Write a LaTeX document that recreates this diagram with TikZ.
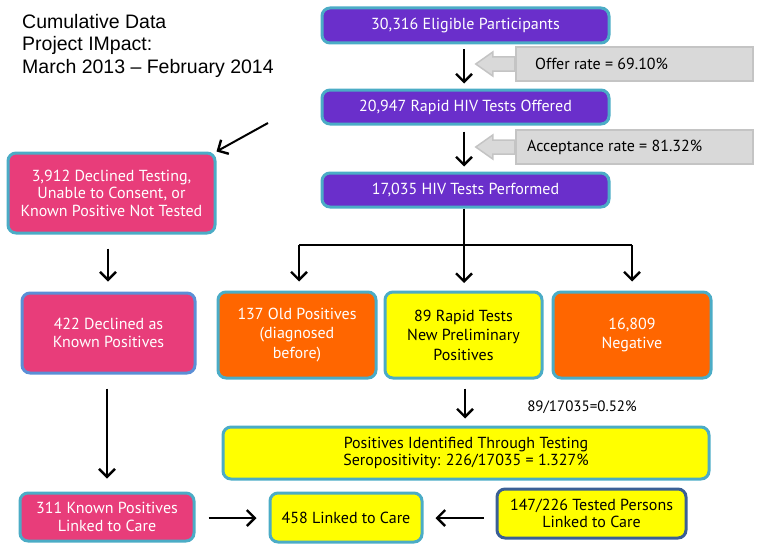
\documentclass[tikz,border=0pt]{standalone}
\usepackage{fontspec}
\setmainfont{Liberation Sans}
\newfontfamily\boxfont{PT Sans}
\usetikzlibrary{arrows.meta}
\definecolor{cpurple}{HTML}{6A2FCB}
\definecolor{ccyan}{HTML}{4BACC6}
\definecolor{cpink}{HTML}{E83D7A}
\definecolor{corange}{HTML}{FF6600}
\definecolor{cyellow}{HTML}{FFFF00}
\definecolor{cgray}{HTML}{D9D9D9}
\definecolor{cgrayb}{HTML}{C4C4C4}
\definecolor{cblueb}{HTML}{5B8FD6}
\definecolor{cnavy}{HTML}{3B5F95}
\tikzset{
  x=1pt, y=-1pt,
  box/.style={draw=ccyan, line width=3pt, rounded corners=8pt, align=center,
    font=\boxfont\fontsize{16}{17.5}\selectfont, inner sep=0pt},
  pbox/.style={box, fill=cpurple, text=white},
  kbox/.style={box, fill=cpink, text=white},
  obox/.style={box, fill=corange, text=white, font=\boxfont\fontsize{16}{19.5}\selectfont},
  ybox/.style={box, fill=cyellow, text=black},
  gbox/.style={draw=cgrayb, line width=2.5pt, fill=cgray, inner sep=0pt},
  flow/.style={line width=2.4pt, -{Straight Barb[length=8pt,width=16pt,line width=2.4pt]}},
  gtext/.style={font=\boxfont\fontsize{16}{17.5}\selectfont, anchor=west, inner sep=0pt},
}
\begin{document}
\begin{tikzpicture}
\useasboundingbox (0,0) rectangle (762,551);
% title
\node[anchor=north west, align=left, inner sep=0pt, font=\fontsize{19.5}{22.5}\selectfont] (title) at (22,14)
  {Cumulative Data\\Project IMpact:\\March 2013 -- February 2014};
% purple column
\node[pbox, minimum width=287pt, minimum height=35pt] (b1) at (465.5,25.5) {30,316 Eligible Participants};
\node[pbox, minimum width=287pt, minimum height=34pt] (b2) at (465.5,107) {20,947 Rapid HIV Tests Offered};
\node[pbox, minimum width=287pt, minimum height=34pt] (b3) at (465.5,190) {17,035 HIV Tests Performed};
% gray rate boxes
\node[gbox, minimum width=237pt, minimum height=34pt] (g1) at (634.5,64) {};
\node[gtext] (g1t) at (535,64) {Offer rate = 69.10\%};
\node[gbox, minimum width=237pt, minimum height=34pt] (g2) at (634.5,147) {};
\node[gtext] (g2t) at (527,147) {Acceptance rate = 81.32\%};
\fill[cgray, draw=cgrayb, line width=1.5pt] (g1.west) ++(0,-7) -- ++(-22,0) -- ++(0,-5) -- ++(-17,12) -- ++(17,12) -- ++(0,-5) -- ++(22,0) -- cycle;
\fill[cgray, draw=cgrayb, line width=1.5pt] (g2.west) ++(0,-7) -- ++(-22,0) -- ++(0,-5) -- ++(-17,12) -- ++(17,12) -- ++(0,-5) -- ++(22,0) -- cycle;
% left column
\node[kbox, minimum width=207pt, minimum height=80pt] (d1) at (111.5,193) {3,912 Declined Testing,\\Unable to Consent, or\\Known Positive Not Tested};
\node[kbox, draw=cblueb, minimum width=173pt, minimum height=80pt] (d2) at (108.5,333) {422 Declined as\\Known Positives};
\node[kbox, minimum width=174pt, minimum height=48pt] (d3) at (107,517) {311 Known Positives\\Linked to Care};
% middle row
\node[obox, minimum width=158pt, minimum height=86pt] (o1) at (297,335) {137 Old Positives\\(diagnosed\\before)};
\node[ybox, font=\boxfont\fontsize{16}{19.5}\selectfont, minimum width=157pt, minimum height=86pt] (o2) at (463.5,335) {89 Rapid Tests\\New Preliminary\\Positives};
\node[obox, minimum width=158pt, minimum height=86pt] (o3) at (632,335) {16,809\\Negative};
\node[font=\boxfont\fontsize{15}{16}\selectfont, inner sep=0pt] (pct) at (582,407) {89/17035=0.52\%};
% bottom
\node[ybox, minimum width=486pt, minimum height=52pt] (pos) at (466,453) {Positives Identified Through Testing\\Seropositivity: 226/17035 = 1.327\%};
\node[ybox, minimum width=152pt, minimum height=49pt] (lc) at (346,517.5) {458 Linked to Care};
\node[ybox, draw=cnavy, minimum width=189pt, minimum height=49pt] (tp) at (591.5,513.5) {147/226 Tested Persons\\Linked to Care};
% connectors
\draw[flow, shorten <=5pt, shorten >=5pt] (b1.south -| 464,0) -- (b2.north -| 464,0);
\draw[flow, shorten <=6pt, shorten >=5pt] (b2.south -| 464,0) -- (b3.north -| 464,0);
\coordinate (split) at (464,245);
\draw[line width=2.4pt] (b3.south -| 464,0) -- (split);
\draw[line width=2.4pt] (299,245) -- (632,245);
\draw[flow] (split) -- (464,283);
\draw[flow, shorten >=9pt] (299,245) -- (o1.north -| 299,0);
\draw[flow, shorten >=9pt] (632,245) -- (o3.north -| 632,0);
\coordinate (lt) at (268,123);
\draw[flow, line width=2pt] (lt) -- (d1.north east);
\draw[flow, shorten <=14pt, shorten >=10pt] (d1.south -| 108,0) -- (d2.north -| 108,0);
\draw[flow, shorten <=14pt, shorten >=13pt] (d2.south -| 107,0) -- (d3.north -| 107,0);
\draw[flow, shorten <=9pt, shorten >=7pt] (o2.south -| 465,0) -- (pos.north -| 465,0);
\draw[flow, shorten <=13pt, shorten >=12pt] (d3.east |- 0,518) -- (lc.west |- 0,518);
\draw[flow, shorten <=12pt, shorten >=12pt] (tp.west |- 0,518) -- (lc.east |- 0,518);
\end{tikzpicture}
\end{document}
